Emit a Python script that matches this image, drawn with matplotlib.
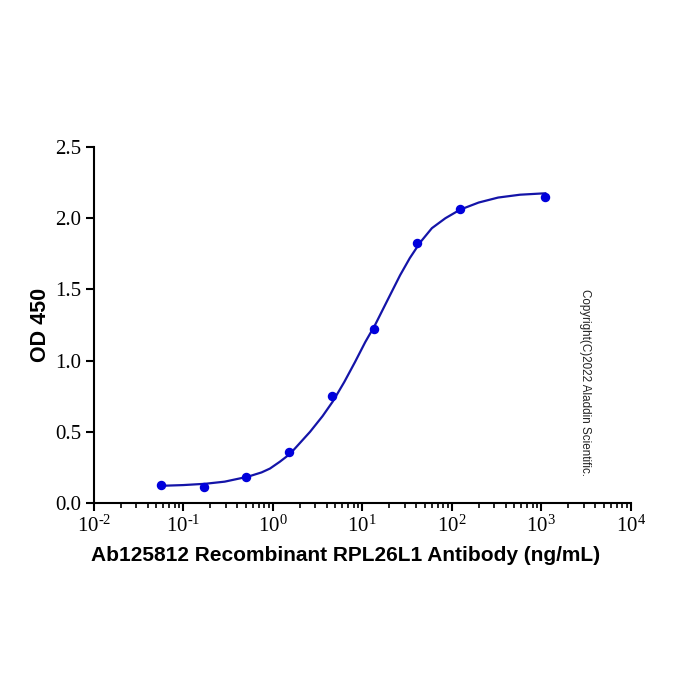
import matplotlib
matplotlib.use("Agg")
import matplotlib.pyplot as plt
from matplotlib.ticker import LogLocator, FixedLocator, NullFormatter

# Measured points
conc = [0.0565, 0.169, 0.508, 1.52, 4.57, 13.7, 41.2, 123.5, 1111]
od = [0.126, 0.114, 0.185, 0.356, 0.751, 1.225, 1.824, 2.067, 2.147]

# Fitted curve
curve_x = [0.0577, 0.10, 0.175, 0.29, 0.528, 0.75, 0.93, 1.2, 1.56, 2.61, 3.6, 4.71, 6.3,
           8.3, 10.8, 13.9, 19, 26.5, 34, 44.4, 60, 85, 124, 200, 330, 580, 1110]
curve_y = [0.121, 0.126, 0.135, 0.150, 0.185, 0.215, 0.242, 0.29, 0.345, 0.500, 0.61,
           0.715, 0.85, 0.99, 1.13, 1.25, 1.42, 1.60, 1.72, 1.83, 1.93, 2.00, 2.06,
           2.11, 2.145, 2.165, 2.175]

xticks = [1e-2, 1e-1, 1e0, 1e1, 1e2, 1e3, 1e4]
xtick_labels = [r"10$^{\text{-2}}$", r"10$^{\text{-1}}$", r"10$^{0}$", r"10$^{1}$",
                r"10$^{2}$", r"10$^{3}$", r"10$^{4}$"]
yticks = [0.0, 0.5, 1.0, 1.5, 2.0, 2.5]
ytick_labels = ["0.0", "0.5", "1.0", "1.5", "2.0", "2.5"]

plt.rcParams["mathtext.fontset"] = "custom"
plt.rcParams["mathtext.rm"] = "Liberation Serif"
plt.rcParams["mathtext.it"] = "Liberation Serif:italic"
plt.rcParams["mathtext.bf"] = "Liberation Serif:bold"

fig = plt.figure(figsize=(7, 7), dpi=100)
ax = fig.add_axes([0.134, 0.2814, 0.767, 0.5086])

ax.plot(curve_x, curve_y, color="#1414a8", lw=1.6, zorder=2)
ax.plot(conc, od, "o", color="#0000dc", ms=5.8, zorder=3)

ax.set_xscale("log")
ax.set_xlim(1e-2, 1e4)
ax.set_ylim(0, 2.5)

ax.xaxis.set_major_locator(FixedLocator(xticks))
ax.set_xticklabels(xtick_labels)
ax.xaxis.set_minor_locator(LogLocator(base=10, subs=range(2, 10), numticks=100))
ax.xaxis.set_minor_formatter(NullFormatter())
ax.set_yticks(yticks)
ax.set_yticklabels(ytick_labels)

for s in ["top", "right"]:
    ax.spines[s].set_visible(False)
for s in ["left", "bottom"]:
    ax.spines[s].set_linewidth(1.5)
    ax.spines[s].set_color("black")

ax.tick_params(axis="both", which="major", direction="out", length=6, width=1.5,
               labelsize=15, pad=3)
ax.tick_params(axis="x", which="minor", direction="out", length=3.5, width=1.2)
for lab in ax.get_yticklabels() + ax.get_xticklabels():
    lab.set_fontfamily("Liberation Serif")

fig.text(0.494, 0.207, "Ab125812 Recombinant RPL26L1 Antibody (ng/mL)",
         ha="center", va="center", fontfamily="Liberation Sans",
         fontweight="bold", fontsize=15)
ax.set_ylabel("OD 450", fontfamily="Liberation Sans", fontweight="bold",
              fontsize=15.5, labelpad=3)

fig.text(0.836, 0.453, "Copyright(C)2022 Aladdin Scientific.", rotation=-90,
         ha="center", va="center", fontfamily="Liberation Sans", fontsize=8.4,
         color="#222222")

fig.savefig("out.png", dpi=100)
